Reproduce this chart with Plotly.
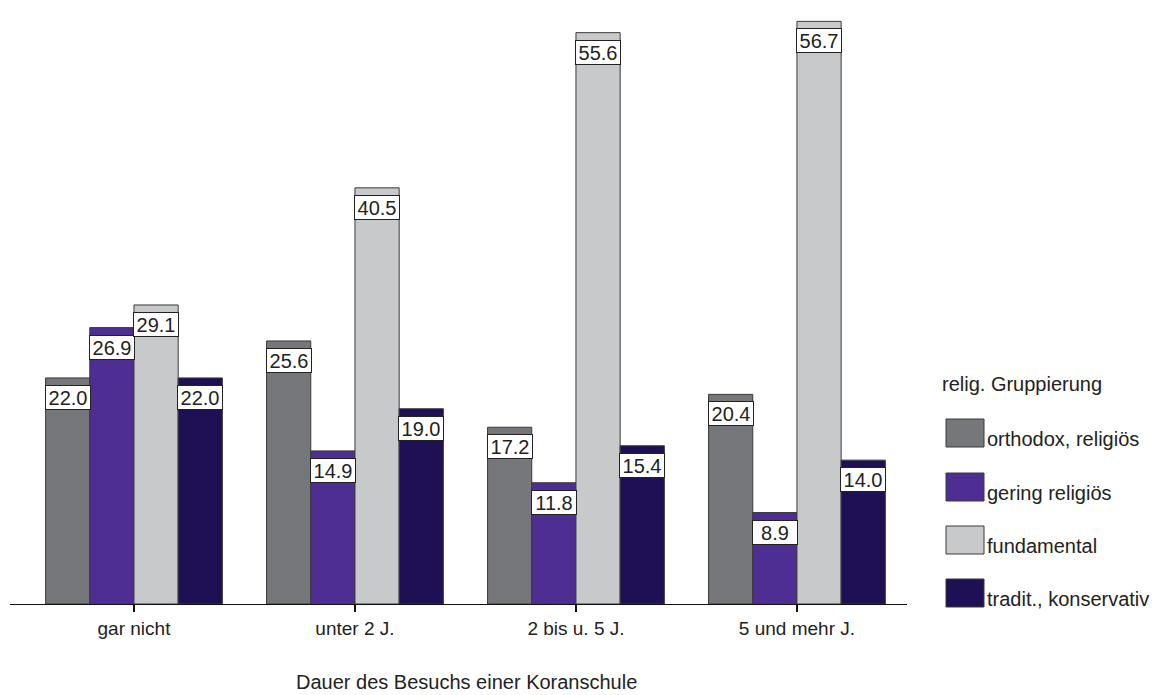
import plotly.graph_objects as go

categories = ["gar nicht", "unter 2 J.", "2 bis u. 5 J.", "5 und mehr J."]
series_names = ["orthodox, religiös", "gering religiös", "fundamental", "tradit., konservativ"]
orthodox = [22.0, 25.6, 17.2, 20.4]
gering = [26.9, 14.9, 11.8, 8.9]
fundamental = [29.1, 40.5, 55.6, 56.7]
tradit = [22.0, 19.0, 15.4, 14.0]
colors = ["#76777B", "#4E2E93", "#C8C9CB", "#1F0F55"]
legend_title = "relig. Gruppierung"
x_title = "Dauer des Besuchs einer Koranschule"

values = [orthodox, gering, fundamental, tradit]

OFF = 8                      # page body margin
W, H = 1159 - OFF, 695 - OFF
L, R = 10 - OFF, 907 - OFF   # plot area in figure px
T, B = 0, 604 - OFF
FONT = "Liberation Sans, Arial, sans-serif"
TXT = "#222222"

def px_x(p):
    return (p - OFF - L) / (R - L)

def px_y(p):
    return (B - (p - OFF)) / (B - T)

fig = go.Figure()
for name, vals, col in zip(series_names, values, colors):
    fig.add_trace(go.Bar(
        x=list(range(len(categories))), y=vals, name=name,
        marker=dict(color=col, line=dict(color="#3a3a3a", width=1)),
        showlegend=False,
    ))

annotations = []
n = len(series_names)
for j, vals in enumerate(values):
    off = (j - (n - 1) / 2) * 0.8 / n
    for i, v in enumerate(vals):
        annotations.append(dict(
            x=i + off, y=v, xref="x", yref="y", text=f"{v:.1f}",
            showarrow=False, yanchor="top", xanchor="center", yshift=-7,
            font=dict(family=FONT, size=20, color=TXT),
            bgcolor="white", bordercolor="#222222", borderwidth=1,
            borderpad=0, width=44, height=23,
        ))

# x-axis title
annotations.append(dict(
    x=px_x(466), y=px_y(682), xref="paper", yref="paper", text=x_title,
    showarrow=False, xanchor="center", yanchor="middle",
    font=dict(family=FONT, size=20, color=TXT),
))

# custom legend
annotations.append(dict(
    x=px_x(940), y=px_y(384), xref="paper", yref="paper", text=legend_title,
    showarrow=False, xanchor="left", yanchor="middle",
    font=dict(family=FONT, size=20, color=TXT),
))
shapes = []
sw_tops = [419, 473, 526, 579]
for name, col, top in zip(series_names, colors, sw_tops):
    shapes.append(dict(
        type="rect", xref="paper", yref="paper",
        x0=px_x(946), x1=px_x(984), y0=px_y(top + 28), y1=px_y(top),
        fillcolor=col, line=dict(color="#3a3a3a", width=1),
    ))
    annotations.append(dict(
        x=px_x(985), y=px_y(top + 20), xref="paper", yref="paper", text=name,
        showarrow=False, xanchor="left", yanchor="middle",
        font=dict(family=FONT, size=20, color=TXT),
    ))

fig.update_layout(
    width=W, height=H,
    margin=dict(l=L, r=W - R, t=T, b=H - B, pad=0),
    paper_bgcolor="white", plot_bgcolor="white",
    barmode="group", bargap=0.2, bargroupgap=0,
    showlegend=False,
    annotations=annotations, shapes=shapes,
    font=dict(family=FONT, size=20, color=TXT),
)
fig.update_xaxes(
    range=[-0.561, 3.498], tickmode="array",
    tickvals=list(range(len(categories))), ticktext=categories,
    showline=True, linecolor="#111111", linewidth=1,
    ticks="outside", ticklen=7, tickwidth=2, tickcolor="#111111",
    showgrid=False, zeroline=False,
    tickfont=dict(family=FONT, size=19, color=TXT),
)
fig.update_yaxes(
    range=[0, 58], visible=False, showgrid=False, zeroline=False,
)

fig.write_html("out.html")
